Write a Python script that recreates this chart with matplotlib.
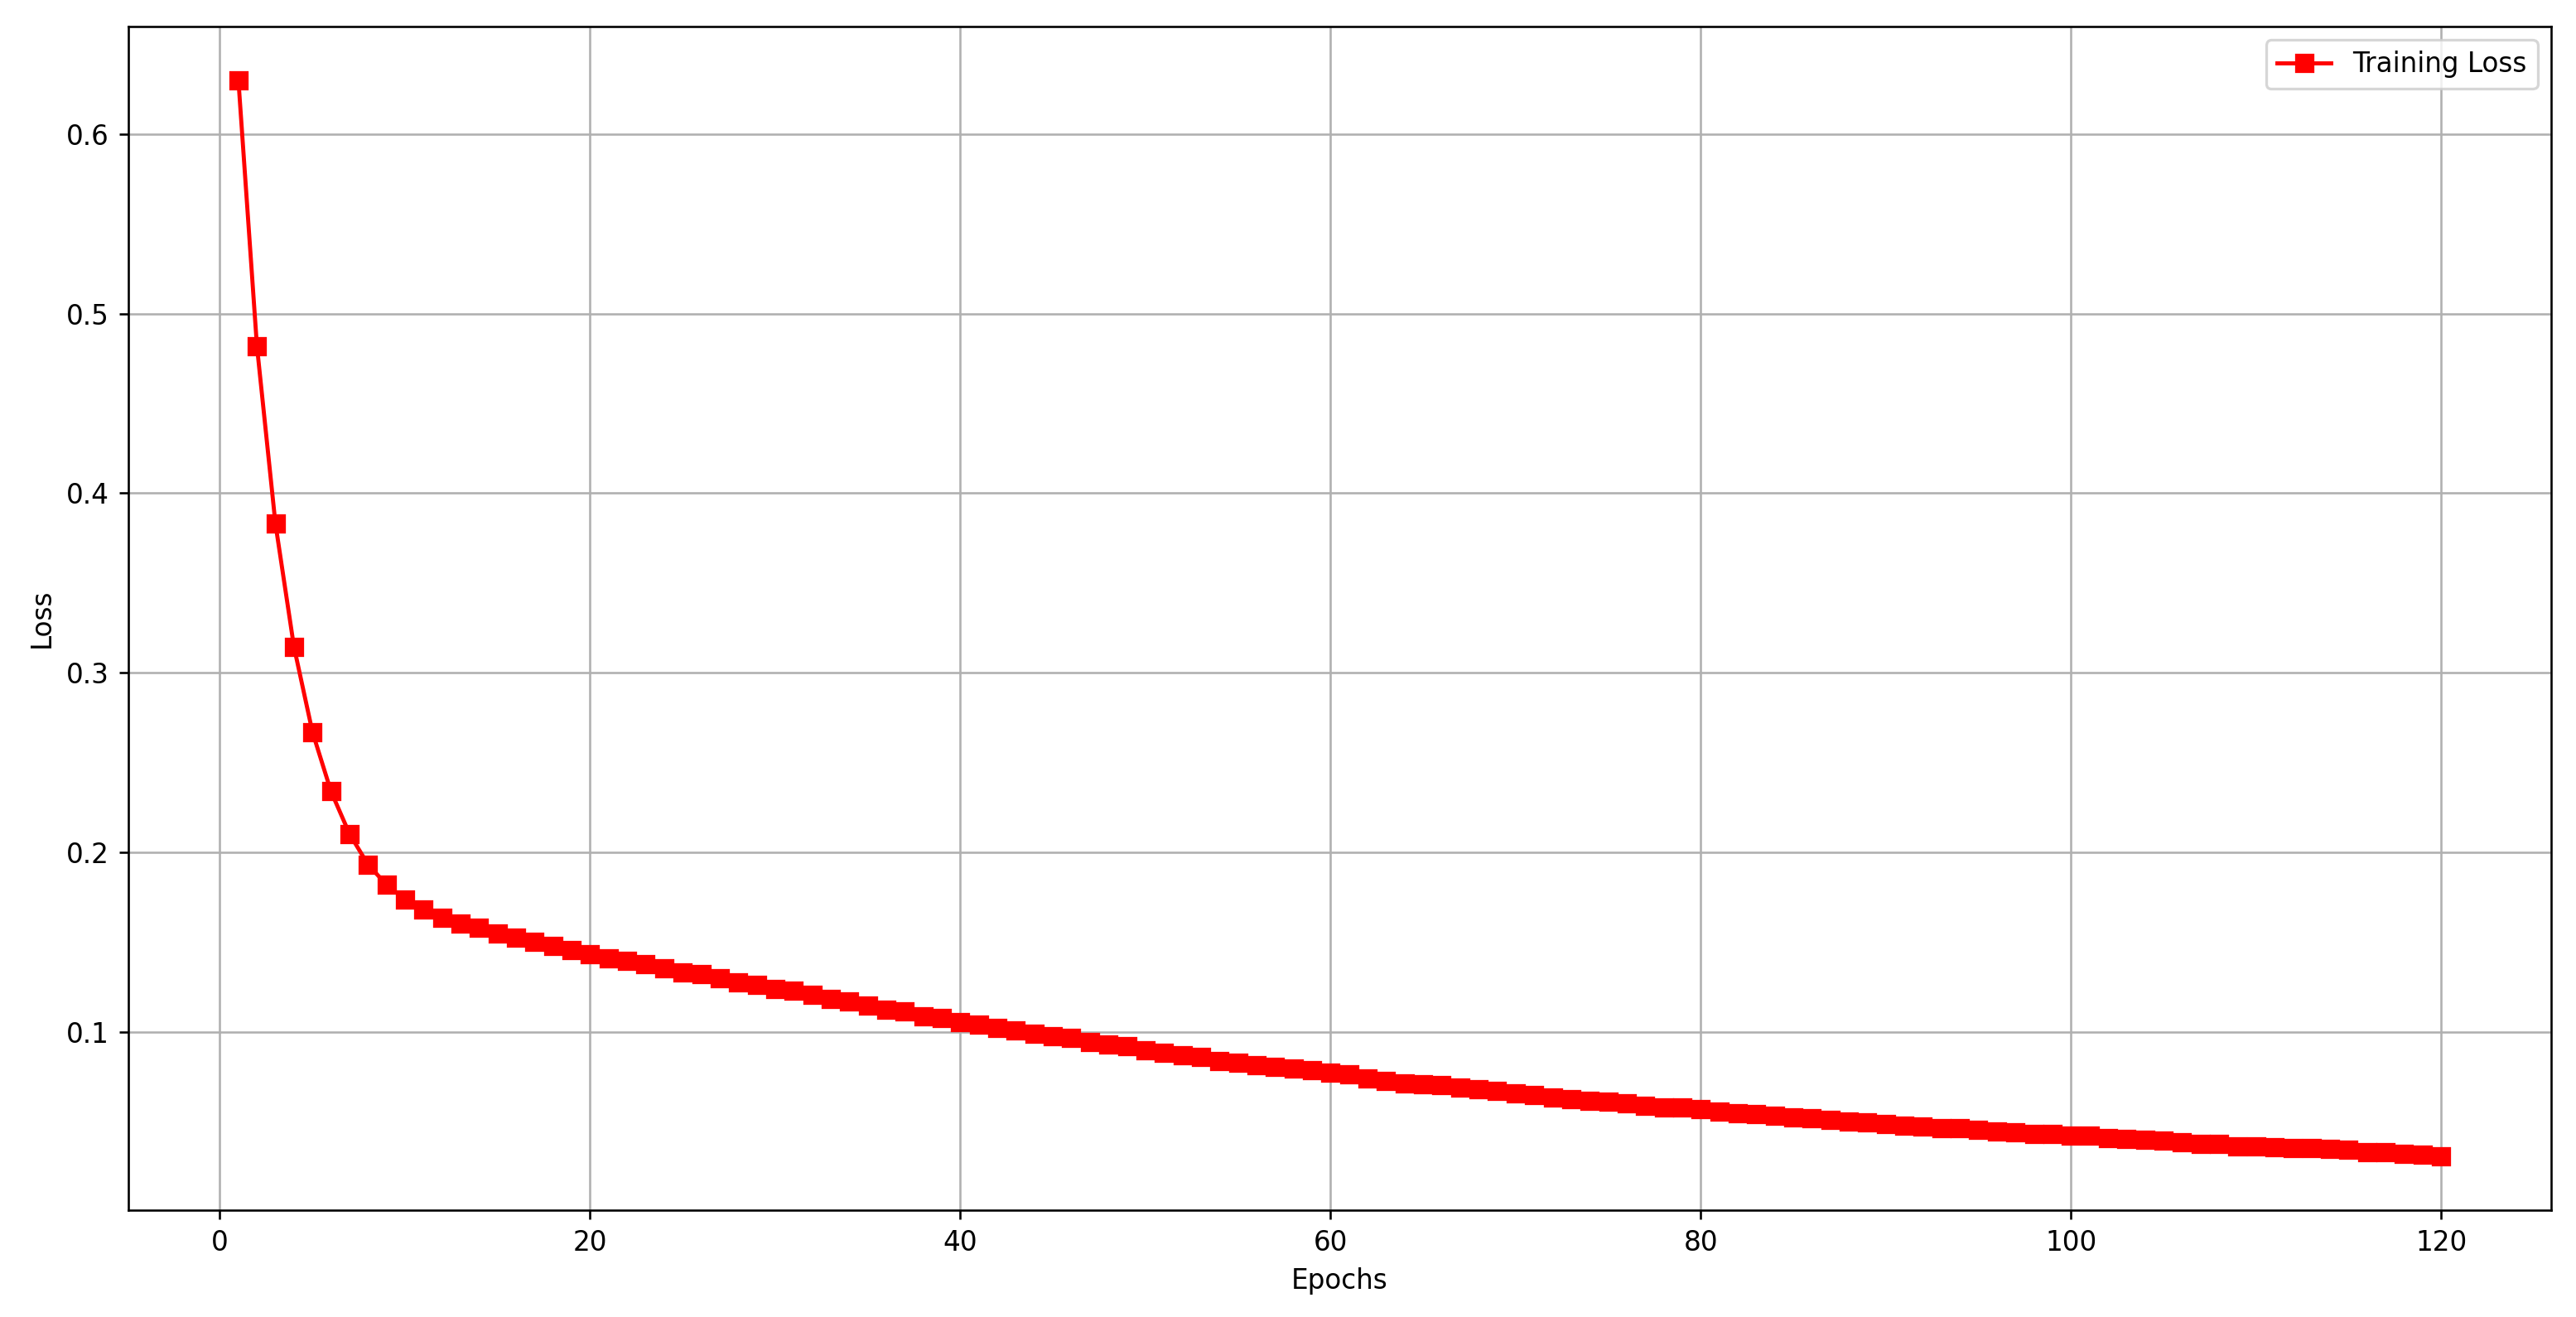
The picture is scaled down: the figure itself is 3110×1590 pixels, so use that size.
import matplotlib
matplotlib.use("Agg")
import matplotlib.pyplot as plt
import numpy as np

epochs = list(range(1, 121))
train_loss = [
    0.6300, 0.4820, 0.3830, 0.3145, 0.2670, 0.2340, 0.2103, 0.1932, 0.1820, 0.1738,
    0.1682, 0.1638, 0.1603, 0.1580, 0.1546, 0.1523, 0.1500, 0.1477, 0.1454, 0.1431,
    0.1408, 0.1397, 0.1377, 0.1354, 0.1331, 0.1320, 0.1297, 0.1274, 0.1262, 0.1238,
    0.1228, 0.1205, 0.1183, 0.1172, 0.1148, 0.1125, 0.1114, 0.1089, 0.1078, 0.1055,
    0.1043, 0.1022, 0.1009, 0.0988, 0.0975, 0.0965, 0.0942, 0.0931, 0.0919, 0.0896,
    0.0885, 0.0872, 0.0862, 0.0839, 0.0828, 0.0817, 0.0806, 0.0796, 0.0785, 0.0773,
    0.0762, 0.0739, 0.0726, 0.0714, 0.0708, 0.0703, 0.0691, 0.0682, 0.0671, 0.0660,
    0.0648, 0.0637, 0.0625, 0.0616, 0.0614, 0.0602, 0.0591, 0.0580, 0.0578, 0.0568,
    0.0556, 0.0546, 0.0544, 0.0533, 0.0523, 0.0521, 0.0510, 0.0500, 0.0498, 0.0488,
    0.0477, 0.0475, 0.0466, 0.0464, 0.0454, 0.0446, 0.0443, 0.0432, 0.0430, 0.0423,
    0.0422, 0.0408, 0.0406, 0.0399, 0.0397, 0.0387, 0.0378, 0.0376, 0.0365, 0.0363,
    0.0356, 0.0355, 0.0353, 0.0347, 0.0345, 0.0331, 0.0329, 0.0319, 0.0317, 0.0307,
]

DPI = 235
fig, ax = plt.subplots(figsize=(3110 / DPI, 1590 / DPI), dpi=DPI)
ax.plot(epochs, train_loss, color="red", marker="s", markersize=6,
        linewidth=1.5, label="Training Loss")
ax.set_xlabel("Epochs")
ax.set_ylabel("Loss")
ax.grid(True)
ax.legend(loc="upper right")
fig.subplots_adjust(left=0.0498, right=0.9904, top=0.980, bottom=0.0811)
fig.savefig("out.png", dpi=DPI)
